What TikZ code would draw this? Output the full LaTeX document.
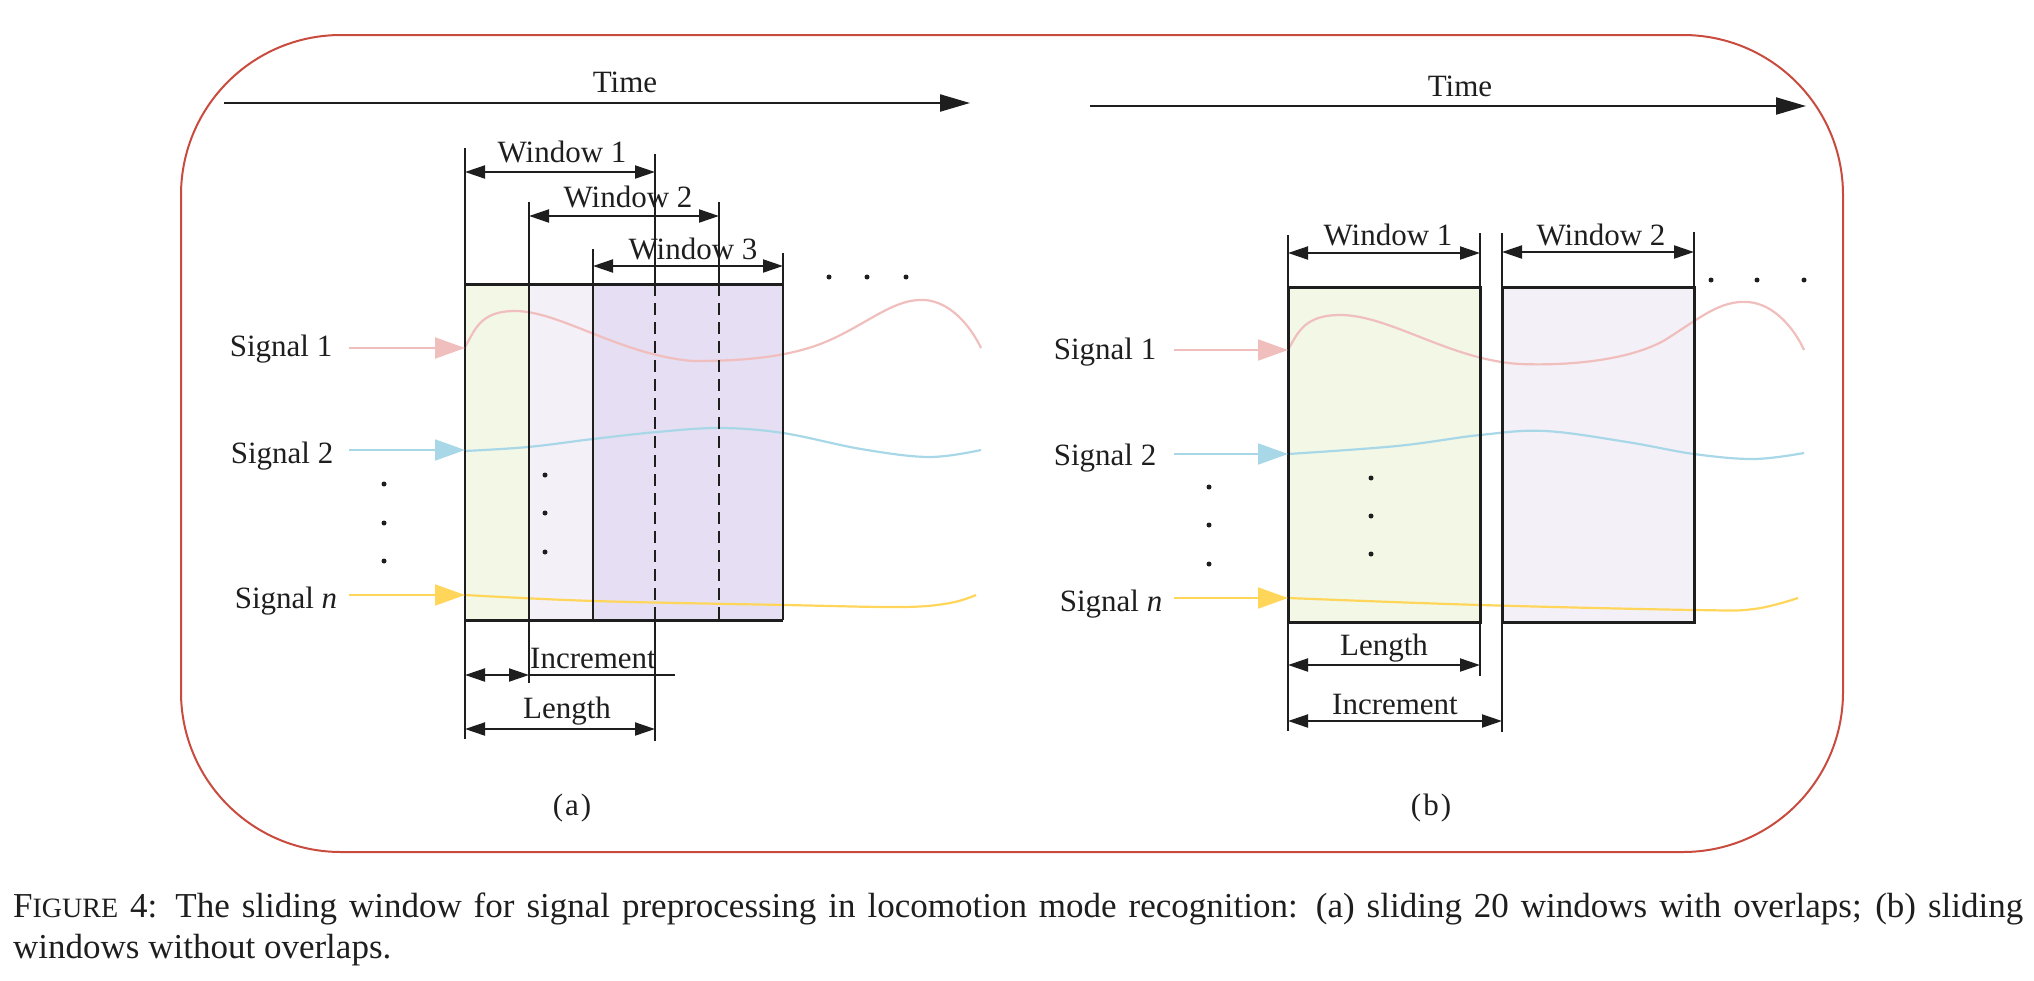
\documentclass[tikz,border=0pt]{standalone}
\usepackage{fontspec}
\setmainfont{Liberation Serif}
\usetikzlibrary{arrows.meta}
\definecolor{frame}{RGB}{200,75,62}
\definecolor{sigA}{RGB}{240,190,188}
\definecolor{sigB}{RGB}{168,216,232}
\definecolor{sigC}{RGB}{255,214,90}
\definecolor{fillG}{RGB}{242,247,230}
\definecolor{fillL}{RGB}{244,240,248}
\definecolor{fillP}{RGB}{230,222,242}
\definecolor{ink}{RGB}{30,30,30}
\begin{document}
\begin{tikzpicture}[x=1pt,y=-1pt,
  lbl/.style={font=\fontsize{31}{36}\selectfont, text=ink, inner sep=0pt, anchor=base},
  dimarrow/.style={line width=2pt, draw=ink, {Triangle[length=20pt,width=13pt]}-{Triangle[length=20pt,width=13pt]}},
  guide/.style={line width=2.2pt, draw=ink},
  dguide/.style={line width=2.2pt, draw=ink, dash pattern=on 12pt off 7pt},
  boxline/.style={line width=3pt, draw=ink},
  timearrow/.style={line width=2.2pt, draw=ink, -{Triangle[length=30pt,width=17pt]}},
  sigarrow/.style={line width=2pt, -{Triangle[length=30pt,width=21pt]}},
  wave/.style={line width=2.2pt},
  dotmark/.style={circle, fill=ink, inner sep=0pt, minimum size=5pt},
]
\useasboundingbox (0,0) rectangle (2034,980);
% outer frame
\draw[frame, line width=2pt, rounded corners=160pt] (181,35) rectangle (1843,852);

% ===================== panel (a) =====================
\coordinate (taS) at (224,103); \coordinate (taE) at (970,103);
\draw[timearrow] (taS) -- (taE);
\node[lbl] (timeA) at (625,92) {Time};

\fill[fillG] (465,284) rectangle (529,620);
\fill[fillL] (529,284) rectangle (593,620);
\fill[fillP] (593,284) rectangle (783,620);

% waves (a)
\draw[wave, sigA] (465,347) .. controls (475,330) and (480,311) .. (515,311)
  .. controls (560,311) and (620,355) .. (693,361)
  .. controls (740,361) and (790,358) .. (830,340)
  .. controls (870,322) and (895,298) .. (925,300)
  .. controls (950,302) and (970,325) .. (981,348);
\draw[wave, sigB] plot[smooth, tension=0.6] coordinates {(465,451) (528,447) (593,439) (657,432) (720,428) (783,433) (861,449) (929,457) (981,450)};
\draw[wave, sigC] plot[smooth, tension=0.6] coordinates {(465,595) (594,601) (785,605) (902,607) (950,603) (976,595)};

% box borders (a)
\draw[boxline] (465,284) -- (783,284);
\draw[boxline] (465,620) -- (783,620);
\coordinate (a1t) at (465,148); \coordinate (a1b) at (465,739);
\coordinate (a2t) at (529,202); \coordinate (a2b) at (529,683);
\coordinate (a3t) at (593,249); \coordinate (a3b) at (593,620);
\coordinate (r3t) at (783,253); \coordinate (r3b) at (783,620);
\draw[guide] (a1t) -- (a1b);
\draw[guide] (a2t) -- (a2b);
\draw[guide] (a3t) -- (a3b);
\draw[guide] (r3t) -- (r3b);
\draw[guide] (655,154) -- (655,284);
\draw[dguide] (655,284) -- (655,620);
\draw[guide] (655,620) -- (655,741);
\draw[guide] (719,202) -- (719,284);
\draw[dguide] (719,284) -- (719,620);

% window dimension arrows (a)
\coordinate (w1aL) at (465,172); \coordinate (w1aR) at (655,172);
\coordinate (w2aL) at (529,216); \coordinate (w2aR) at (719,216);
\coordinate (w3aL) at (593,266); \coordinate (w3aR) at (783,266);
\draw[dimarrow] (w1aL) -- (w1aR);
\draw[dimarrow] (w2aL) -- (w2aR);
\draw[dimarrow] (w3aL) -- (w3aR);
\node[lbl] (win1a) at (562,162) {Window 1};
\node[lbl] (win2a) at (628,207) {Window 2};
\node[lbl] (win3a) at (693,259) {Window 3};

% dots (a)
\node[dotmark] (dA1) at (829,277) {};
\node[dotmark] (dA2) at (867,277) {};
\node[dotmark] (dA3) at (906,277) {};
\node[dotmark] (vA1) at (384,484) {};
\node[dotmark] (vA2) at (384,523) {};
\node[dotmark] (vA3) at (384,561) {};
\node[dotmark] (iA1) at (545,475) {};
\node[dotmark] (iA2) at (545,513) {};
\node[dotmark] (iA3) at (545,552) {};

% signals (a)
\node[lbl] (s1a) at (281,356) {Signal 1};
\node[lbl] (s2a) at (282,463) {Signal 2};
\node[lbl] (sna) at (286,608) {Signal \textit{n}};
\coordinate (s1aS) at (349,348); \coordinate (s1aE) at (465,348);
\coordinate (s2aS) at (349,450); \coordinate (s2aE) at (465,450);
\coordinate (snaS) at (349,595); \coordinate (snaE) at (465,595);
\draw[sigarrow, sigA] (s1aS) -- (s1aE);
\draw[sigarrow, sigB] (s2aS) -- (s2aE);
\draw[sigarrow, sigC] (snaS) -- (snaE);

% increment / length (a)
\coordinate (incaL) at (465,675); \coordinate (incaR) at (529,675); \coordinate (incaX) at (675,675);
\draw[dimarrow] (incaL) -- (incaR);
\draw[guide] (incaR) -- (incaX);
\node[lbl] (inca) at (593,668) {Increment};
\coordinate (lenaL) at (465,729); \coordinate (lenaR) at (655,729);
\draw[dimarrow] (lenaL) -- (lenaR);
\node[lbl] (lena) at (567,718) {Length};
\node[lbl] (capa) at (572,815) {(\kern2pt a\kern2pt)};

% ===================== panel (b) =====================
\coordinate (tbS) at (1090,106); \coordinate (tbE) at (1806,106);
\draw[timearrow] (tbS) -- (tbE);
\node[lbl] (timeB) at (1460,96) {Time};

\fill[fillG] (1288,287) rectangle (1480,622);
\fill[fillL] (1502,287) rectangle (1694,622);

\draw[wave, sigA] (1288,350) .. controls (1298,332) and (1305,315) .. (1340,315)
  .. controls (1390,315) and (1450,360) .. (1520,364)
  .. controls (1570,366) and (1630,360) .. (1665,340)
  .. controls (1700,318) and (1720,300) .. (1748,302)
  .. controls (1775,304) and (1795,330) .. (1804,350);
\draw[wave, sigB] plot[smooth, tension=0.6] coordinates {(1288,454) (1397,446) (1480,435) (1545,431) (1627,442) (1694,454) (1754,459) (1804,453)};
\draw[wave, sigC] plot[smooth, tension=0.6] coordinates {(1288,598) (1480,605) (1694,610) (1754,609) (1798,598)};

\draw[boxline] (1288,287) rectangle (1480,622);
\draw[boxline] (1502,287) rectangle (1694,622);
\coordinate (b1t) at (1288,235); \coordinate (b1b) at (1288,731);
\coordinate (c1t) at (1480,233); \coordinate (c1b) at (1480,676);
\coordinate (b2t) at (1502,233); \coordinate (b2b) at (1502,732);
\coordinate (c2t) at (1694,232); \coordinate (c2b) at (1694,287);
\draw[guide] (b1t) -- (b1b);
\draw[guide] (c1t) -- (c1b);
\draw[guide] (b2t) -- (b2b);
\draw[guide] (c2t) -- (c2b);

\coordinate (w1bL) at (1288,253); \coordinate (w1bR) at (1480,253);
\coordinate (w2bL) at (1502,252); \coordinate (w2bR) at (1694,252);
\draw[dimarrow] (w1bL) -- (w1bR);
\draw[dimarrow] (w2bL) -- (w2bR);
\node[lbl] (win1b) at (1388,245) {Window 1};
\node[lbl] (win2b) at (1601,245) {Window 2};

\node[dotmark] (dB1) at (1711,280) {};
\node[dotmark] (dB2) at (1757,280) {};
\node[dotmark] (dB3) at (1804,280) {};
\node[dotmark] (vB1) at (1209,487) {};
\node[dotmark] (vB2) at (1209,525) {};
\node[dotmark] (vB3) at (1209,564) {};
\node[dotmark] (iB1) at (1371,478) {};
\node[dotmark] (iB2) at (1371,516) {};
\node[dotmark] (iB3) at (1371,554) {};

\node[lbl] (s1b) at (1105,359) {Signal 1};
\node[lbl] (s2b) at (1105,465) {Signal 2};
\node[lbl] (snb) at (1111,611) {Signal \textit{n}};
\coordinate (s1bS) at (1174,350); \coordinate (s1bE) at (1288,350);
\coordinate (s2bS) at (1174,454); \coordinate (s2bE) at (1288,454);
\coordinate (snbS) at (1174,598); \coordinate (snbE) at (1288,598);
\draw[sigarrow, sigA] (s1bS) -- (s1bE);
\draw[sigarrow, sigB] (s2bS) -- (s2bE);
\draw[sigarrow, sigC] (snbS) -- (snbE);

\coordinate (lenbL) at (1288,665); \coordinate (lenbR) at (1480,665);
\draw[dimarrow] (lenbL) -- (lenbR);
\node[lbl] (lenb) at (1384,655) {Length};
\coordinate (incbL) at (1288,721); \coordinate (incbR) at (1502,721);
\draw[dimarrow] (incbL) -- (incbR);
\node[lbl] (incb) at (1395,714) {Increment};
\node[lbl] (capb) at (1431,815) {(\kern2pt b\kern2pt)};

% ===================== caption =====================
\node[anchor=base west, inner sep=0pt, text=ink, font=\fontsize{35}{40}\selectfont] (cap1) at (13,917)
  {\makebox[2010pt][s]{F{\fontsize{28}{30}\selectfont IGURE} 4: The sliding window for signal preprocessing in locomotion mode recognition: (a) sliding 20 windows with overlaps; (b) sliding}};
\node[anchor=base west, inner sep=0pt, text=ink, font=\fontsize{35}{40}\selectfont] (cap2) at (13,958)
  {windows without overlaps.};
\end{tikzpicture}
\end{document}
